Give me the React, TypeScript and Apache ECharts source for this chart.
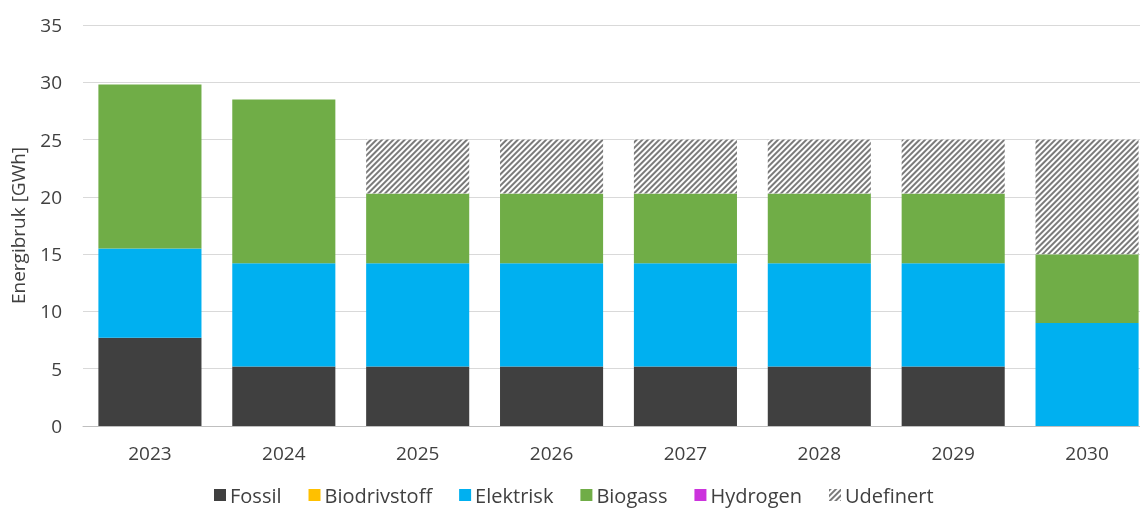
import React, { useEffect, useRef } from "react";
import * as echarts from "echarts";

const categories = ["2023", "2024", "2025", "2026", "2027", "2028", "2029", "2030"];
const fossil = [7.7, 5.2, 5.2, 5.2, 5.2, 5.2, 5.2, 0];
const biodrivstoff = [0, 0, 0, 0, 0, 0, 0, 0];
const elektrisk = [7.8, 9.0, 9.0, 9.0, 9.0, 9.0, 9.0, 9.0];
const biogass = [14.3, 14.3, 6.1, 6.1, 6.1, 6.1, 6.1, 6.0];
const hydrogen = [0, 0, 0, 0, 0, 0, 0, 0];
const udefinert = [0, 0, 4.7, 4.7, 4.7, 4.7, 4.7, 10.0];

const FONT = "Open Sans";

export default function App() {
  const ref = useRef<HTMLDivElement>(null);
  useEffect(() => {
    if (!ref.current) return;
    const chart = echarts.init(ref.current, undefined, { renderer: "svg" });
    const mk = (name: string, data: number[], color: string, extra: any = {}) => ({
      name,
      type: "bar",
      stack: "total",
      data,
      barCategoryGap: "23%",
      itemStyle: { color, ...extra },
      emphasis: { disabled: true },
    });
    chart.setOption({
      animation: false,
      textStyle: { fontFamily: FONT },
      grid: { left: 83, right: 0, top: 25, bottom: 84 },
      legend: {
        bottom: 4,
        left: 214,
        padding: 0,
        itemWidth: 12,
        itemHeight: 12,
        itemGap: 27,
        icon: "rect",
        textStyle: {
          fontSize: 20,
          lineHeight: 22,
          color: "#404040",
          fontFamily: FONT,
          padding: [0, 0, 0, -1],
        },
      },
      xAxis: {
        type: "category",
        data: categories,
        axisTick: { show: false },
        axisLine: { lineStyle: { color: "#bfbfbf", width: 1 } },
        axisLabel: { fontSize: 19, color: "#404040", margin: 17 },
      },
      yAxis: {
        type: "value",
        min: 0,
        max: 35,
        interval: 5,
        name: "Energibruk [GWh]",
        nameLocation: "middle",
        nameGap: 56,
        nameTextStyle: { fontSize: 19, color: "#404040" },
        axisLabel: { fontSize: 19, color: "#404040", margin: 21 },
        splitLine: { lineStyle: { color: "#d9d9d9", width: 1 } },
        axisLine: { show: false },
        axisTick: { show: false },
      },
      series: [
        mk("Fossil", fossil, "#404040"),
        mk("Biodrivstoff", biodrivstoff, "#FFC000"),
        mk("Elektrisk", elektrisk, "#00B0F0"),
        mk("Biogass", biogass, "#70AD47"),
        mk("Hydrogen", hydrogen, "#CC33DD"),
        mk("Udefinert", udefinert, "#ffffff", {
          decal: {
            symbol: "rect",
            symbolSize: 1,
            dashArrayX: [1, 0],
            dashArrayY: [2, 2],
            rotation: -Math.PI / 4,
            color: "#7a7a7a",
            backgroundColor: "#ffffff",
          },
        }),
      ],
    });
    return () => chart.dispose();
  }, []);
  return (
    <div
      ref={ref}
      style={{ position: "fixed", left: 0, top: 0, width: 1154, height: 510 }}
    />
  );
}
